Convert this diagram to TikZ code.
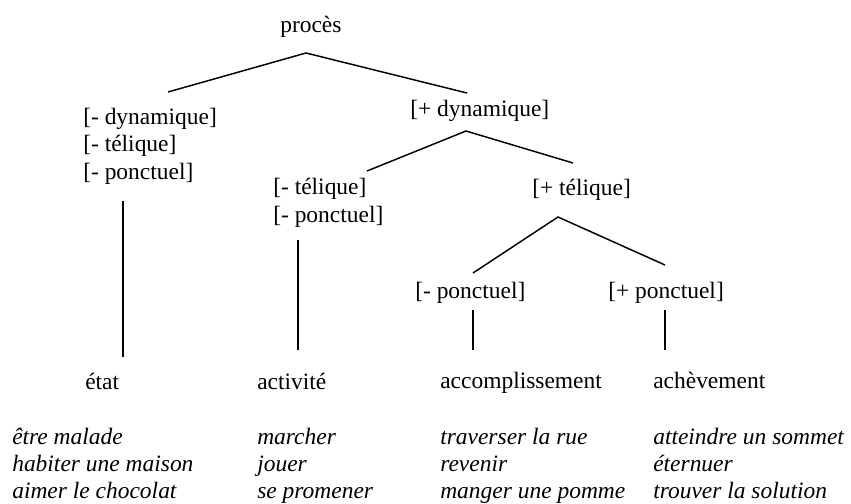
\documentclass[tikz,border=0pt]{standalone}
\usepackage{fontspec}
\setmainfont{Liberation Serif}

\begin{document}
\begin{tikzpicture}[
    x=0.75pt, y=-0.75pt,
    feat/.style={anchor=base west, inner sep=0pt, align=left,
        font=\fontsize{17.6}{20.6}\selectfont},
    example/.style={feat, font=\fontsize{17.6}{19.9}\selectfont\itshape},
    branch/.style={line width=1.1pt, -}
]
    \useasboundingbox (0,0) rectangle (851,504);
    % features (multi-line nodes sit on their last line)
    \node[feat] (proces) at (280,32) {procès};
    \node[feat] (mdyn) at (83,179) {[- dynamique]\\{}[- télique]\\{}[- ponctuel]};
    \node[feat] (pdyn) at (410,116) {[+ dynamique]};
    \node[feat] (mtel) at (273,222) {[- télique]\\{}[- ponctuel]};
    \node[feat] (ptel) at (532,195) {[+ télique]};
    \node[feat] (mpon) at (415,298) {[- ponctuel]};
    \node[feat] (ppon) at (608,298) {[+ ponctuel]};
    % classes
    \node[feat] (etat) at (85,389) {état};
    \node[feat] (activite) at (257,389) {activité};
    \node[feat] (accompl) at (440,388) {accomplissement};
    \node[feat] (achev) at (653,388) {achèvement};
    % examples
    \node[example] (exetat) at (12,498) {être malade\\habiter une maison\\aimer le chocolat};
    \node[example] (exact) at (257,498) {marcher\\jouer\\se promener};
    \node[example] (exacc) at (440,498) {traverser la rue\\revenir\\manger une pomme};
    \node[example] (exach) at (653,498) {atteindre un sommet\\éternuer\\trouver la solution};
    % branch points
    \coordinate (proces-s) at (306,53);
    \coordinate (mdyn-n) at (168,92);
    \coordinate (pdyn-n) at (467,93);
    \coordinate (pdyn-s) at (466,131);
    \coordinate (mtel-n) at (367,171);
    \coordinate (ptel-n) at (573,163);
    \coordinate (ptel-s) at (558,217);
    \coordinate (mpon-n) at (473,273);
    \coordinate (ppon-n) at (665,265);
    \coordinate (mdyn-s) at (123,201);
    \coordinate (etat-n) at (123,357);
    \coordinate (mtel-s) at (298,240);
    \coordinate (activite-n) at (298,350);
    \coordinate (mpon-s) at (473,310);
    \coordinate (accompl-n) at (473,350);
    \coordinate (ppon-s) at (665,310);
    \coordinate (achev-n) at (665,350);
    \draw[branch] (mdyn-n) -- (proces-s) -- (pdyn-n);
    \draw[branch] (mtel-n) -- (pdyn-s) -- (ptel-n);
    \draw[branch] (mpon-n) -- (ptel-s) -- (ppon-n);
    \draw[branch] (mdyn-s) -- (etat-n);
    \draw[branch] (mtel-s) -- (activite-n);
    \draw[branch] (mpon-s) -- (accompl-n);
    \draw[branch] (ppon-s) -- (achev-n);
\end{tikzpicture}
\end{document}
